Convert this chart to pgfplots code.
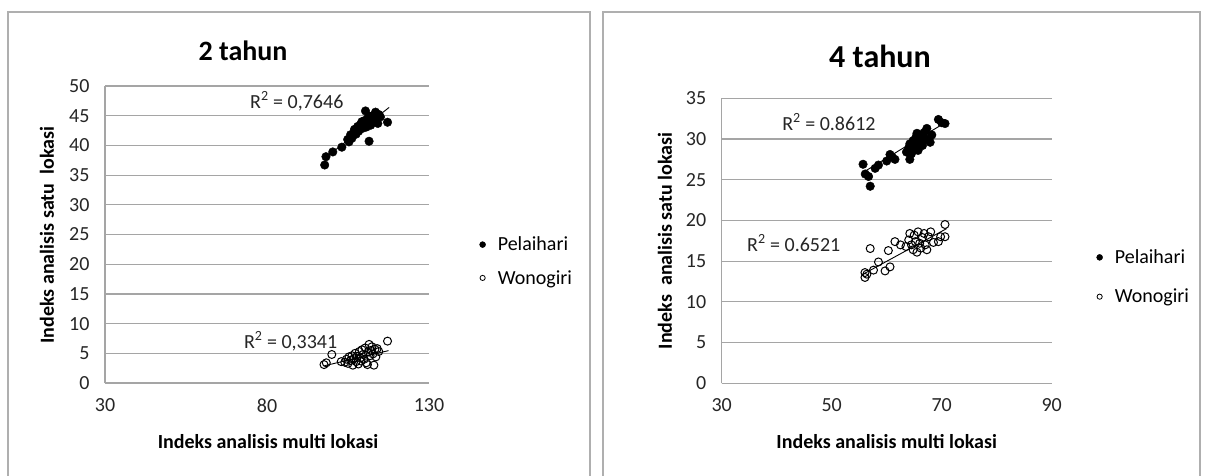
\documentclass[border=0pt]{standalone}
\usepackage{fontspec}
\setmainfont{Carlito}
\usepackage{pgfplots}
\pgfplotsset{compat=1.18}

\definecolor{gridgray}{RGB}{165,165,165}
\definecolor{framegray}{RGB}{175,175,175}
\newcommand{\fs}[1]{\fontsize{#1}{#1}\selectfont}

\pgfplotsset{
  excel/.style={
    scale only axis,
    axis x line=bottom, axis y line=left,
    axis line style={-, draw=gridgray, line width=1.2pt},
    ymajorgrids, grid style={draw=gridgray, line width=1.2pt},
    major tick length=0pt,
    tick label style={font=\fs{20}, text=black!85},
    xticklabel style={yshift=-12pt},
    yticklabel style={xshift=-12pt},
    /pgf/number format/assume math mode=true,
    xlabel style={font=\bfseries\fs{20}, anchor=center},
    ylabel style={font=\bfseries\fs{20}, anchor=center},
    clip=false,
    legend cell align=left,
    legend style={draw=none, fill=none, font=\fs{20}, inner sep=0pt,
                  row sep=14pt, anchor=west},
  },
  pel/.style={only marks, mark=*, mark size=4.3pt, mark options={fill=black, draw=black}},
  won/.style={only marks, mark=o, mark size=4pt, mark options={draw=black, line width=1pt}},
  trend/.style={black, line width=0.9pt, no marks},
  pelleg/.style={legend image code/.code={\fill[black] (0pt,0pt) circle (3pt); \path (13pt,0pt);}},
  wonleg/.style={legend image code/.code={\draw[black, line width=0.8pt] (0pt,0pt) circle (2.6pt); \path (13pt,0pt);}},
}

% 2 tahun
\pgfplotstableread{
x     y
97.8  36.7
98.2  38.1
100.3 38.9
103.1 39.7
104.9 41.0
105.3 40.6
105.8 41.8
106.2 41.2
106.8 42.0
107.0 42.7
107.5 41.9
107.8 42.5
108.0 43.2
108.3 42.4
108.7 43.0
109.0 43.6
109.3 44.0
109.6 42.9
110.0 43.5
110.2 44.2
110.4 45.8
110.7 43.1
111.0 44.5
111.2 43.8
111.5 40.7
111.7 44.9
112.0 43.4
112.3 44.3
112.6 45.0
113.0 44.0
113.5 45.6
113.8 44.6
114.2 43.7
114.5 45.2
115.0 44.8
117.2 43.9
}\pelA

\pgfplotstableread{
x     y
97.6  3.1
98.3  3.4
100.0 4.8
102.9 3.6
104.0 3.5
104.5 4.0
105.0 3.3
105.3 4.4
105.8 3.8
106.2 4.6
106.5 3.0
106.8 4.1
107.2 5.0
107.5 3.6
107.8 4.5
108.2 3.2
108.5 5.3
108.8 4.2
109.0 3.7
109.3 5.6
109.6 4.8
110.0 4.0
110.3 5.9
110.6 3.4
111.0 3.1
111.2 5.2
111.5 6.5
111.8 4.6
112.1 5.5
112.4 6.1
112.7 4.9
113.0 3.0
113.3 5.7
113.6 4.4
114.0 5.8
114.5 5.3
117.2 7.05
}\wonA

% 4 tahun
\pgfplotstableread{
x     y
55.7  26.9
56.1  25.7
56.7  25.4
57.0  24.2
57.9  26.4
58.5  26.8
60.0  27.3
60.6  28.1
61.0  27.8
61.5  27.5
63.6  28.4
64.0  28.9
64.2  27.5
64.2  29.4
64.5  28.2
64.8  29.8
65.0  29.0
65.3  30.2
65.5  30.7
65.7  28.6
66.0  29.6
66.2  30.4
66.5  29.2
66.8  30.8
67.0  30.0
67.3  31.3
67.5  29.9
67.9  29.6
68.2  30.5
69.4  32.4
70.0  32.0
70.6  31.9
}\pelB

\pgfplotstableread{
x     y
56.05 13.6
56.05 13.0
56.4  13.4
57.0  16.55
57.6  13.9
58.5  14.9
59.7  13.8
60.3  16.3
60.6  14.3
61.5  17.4
62.5  17.0
63.5  16.8
64.0  17.6
64.2  18.4
64.5  17.0
64.8  16.4
65.0  18.2
65.2  17.4
65.5  16.1
65.7  18.6
66.0  17.2
66.2  16.6
66.5  17.9
66.8  18.4
67.0  17.0
67.3  16.4
67.6  18.0
68.0  18.6
68.5  17.3
69.4  17.4
69.8  18.0
70.6  18.0
70.6  19.5
}\wonB

\begin{document}
\begin{tikzpicture}[x=1pt, y=1pt]
\useasboundingbox (0pt,0pt) rectangle (1205pt,475pt);
\fill[white] (0pt,0pt) rectangle (1205pt,475pt);
% chart frames
\draw[framegray, line width=1.3pt] (8pt,-20pt) rectangle (590pt,463pt);
\draw[framegray, line width=1.3pt] (603pt,-20pt) rectangle (1200pt,463pt);

\node[font=\bfseries\fs{28}] at (243pt,424pt) {2 tahun};
\node[font=\bfseries\fs{32}] at (880pt,419pt) {4 tahun};

\begin{axis}[excel,
  at={(105pt,92pt)}, anchor=south west,
  width=324pt, height=297pt,
  xmin=30, xmax=130, ymin=0, ymax=50,
  xtick={30,80,130}, ytick={0,5,...,50},
  xlabel={Indeks analisis multi lokasi},
  ylabel={Indeks analisis satu\ \ lokasi},
  xlabel style={at={(axis description cs:0.503,-0.198)}},
  ylabel style={at={(axis description cs:-0.179,0.498)}},
  legend style={at={(1.155,0.41)}},
]
\addplot[pel, pelleg] table {\pelA};
\addlegendentry{Pelaihari}
\addplot[won, wonleg] table {\wonA};
\addlegendentry{Wonogiri}
\addplot[trend, forget plot] coordinates {(97.8,37.8) (117.7,46.4)};
\addplot[trend, forget plot] coordinates {(97.7,2.9) (117.5,5.45)};
\node[font=\fs{20}, text=black!85] at (axis cs:89.2,47.4) {R\textsuperscript{2} = 0,7646};
\node[font=\fs{20}, text=black!85] at (axis cs:87.3,7.0) {R\textsuperscript{2} = 0,3341};
\end{axis}

\begin{axis}[excel,
  at={(721.7pt,91.7pt)}, anchor=south west,
  width=330pt, height=285pt,
  xmin=30, xmax=90, ymin=0, ymax=35,
  xtick={30,50,70,90}, ytick={0,5,...,35},
  xlabel={Indeks analisis multi lokasi},
  ylabel={Indeks\ \ analisis satu lokasi},
  xlabel style={at={(axis description cs:0.5,-0.205)}},
  ylabel style={at={(axis description cs:-0.172,0.5)}},
  legend style={at={(1.135,0.373)}, row sep=20pt},
]
\addplot[pel, pelleg] table {\pelB};
\addlegendentry{Pelaihari}
\addplot[won, wonleg] table {\wonB};
\addlegendentry{Wonogiri}
\addplot[trend, forget plot] coordinates {(55.7,25.9) (70.6,32.0)};
\addplot[trend, forget plot] coordinates {(55.7,13.4) (70.9,19.0)};
\node[font=\fs{20}, text=black!85] at (axis cs:49.5,32.1) {R\textsuperscript{2} = 0.8612};
\node[font=\fs{20}, text=black!85] at (axis cs:43.1,17.2) {R\textsuperscript{2} = 0.6521};
\end{axis}
\end{tikzpicture}
\end{document}
